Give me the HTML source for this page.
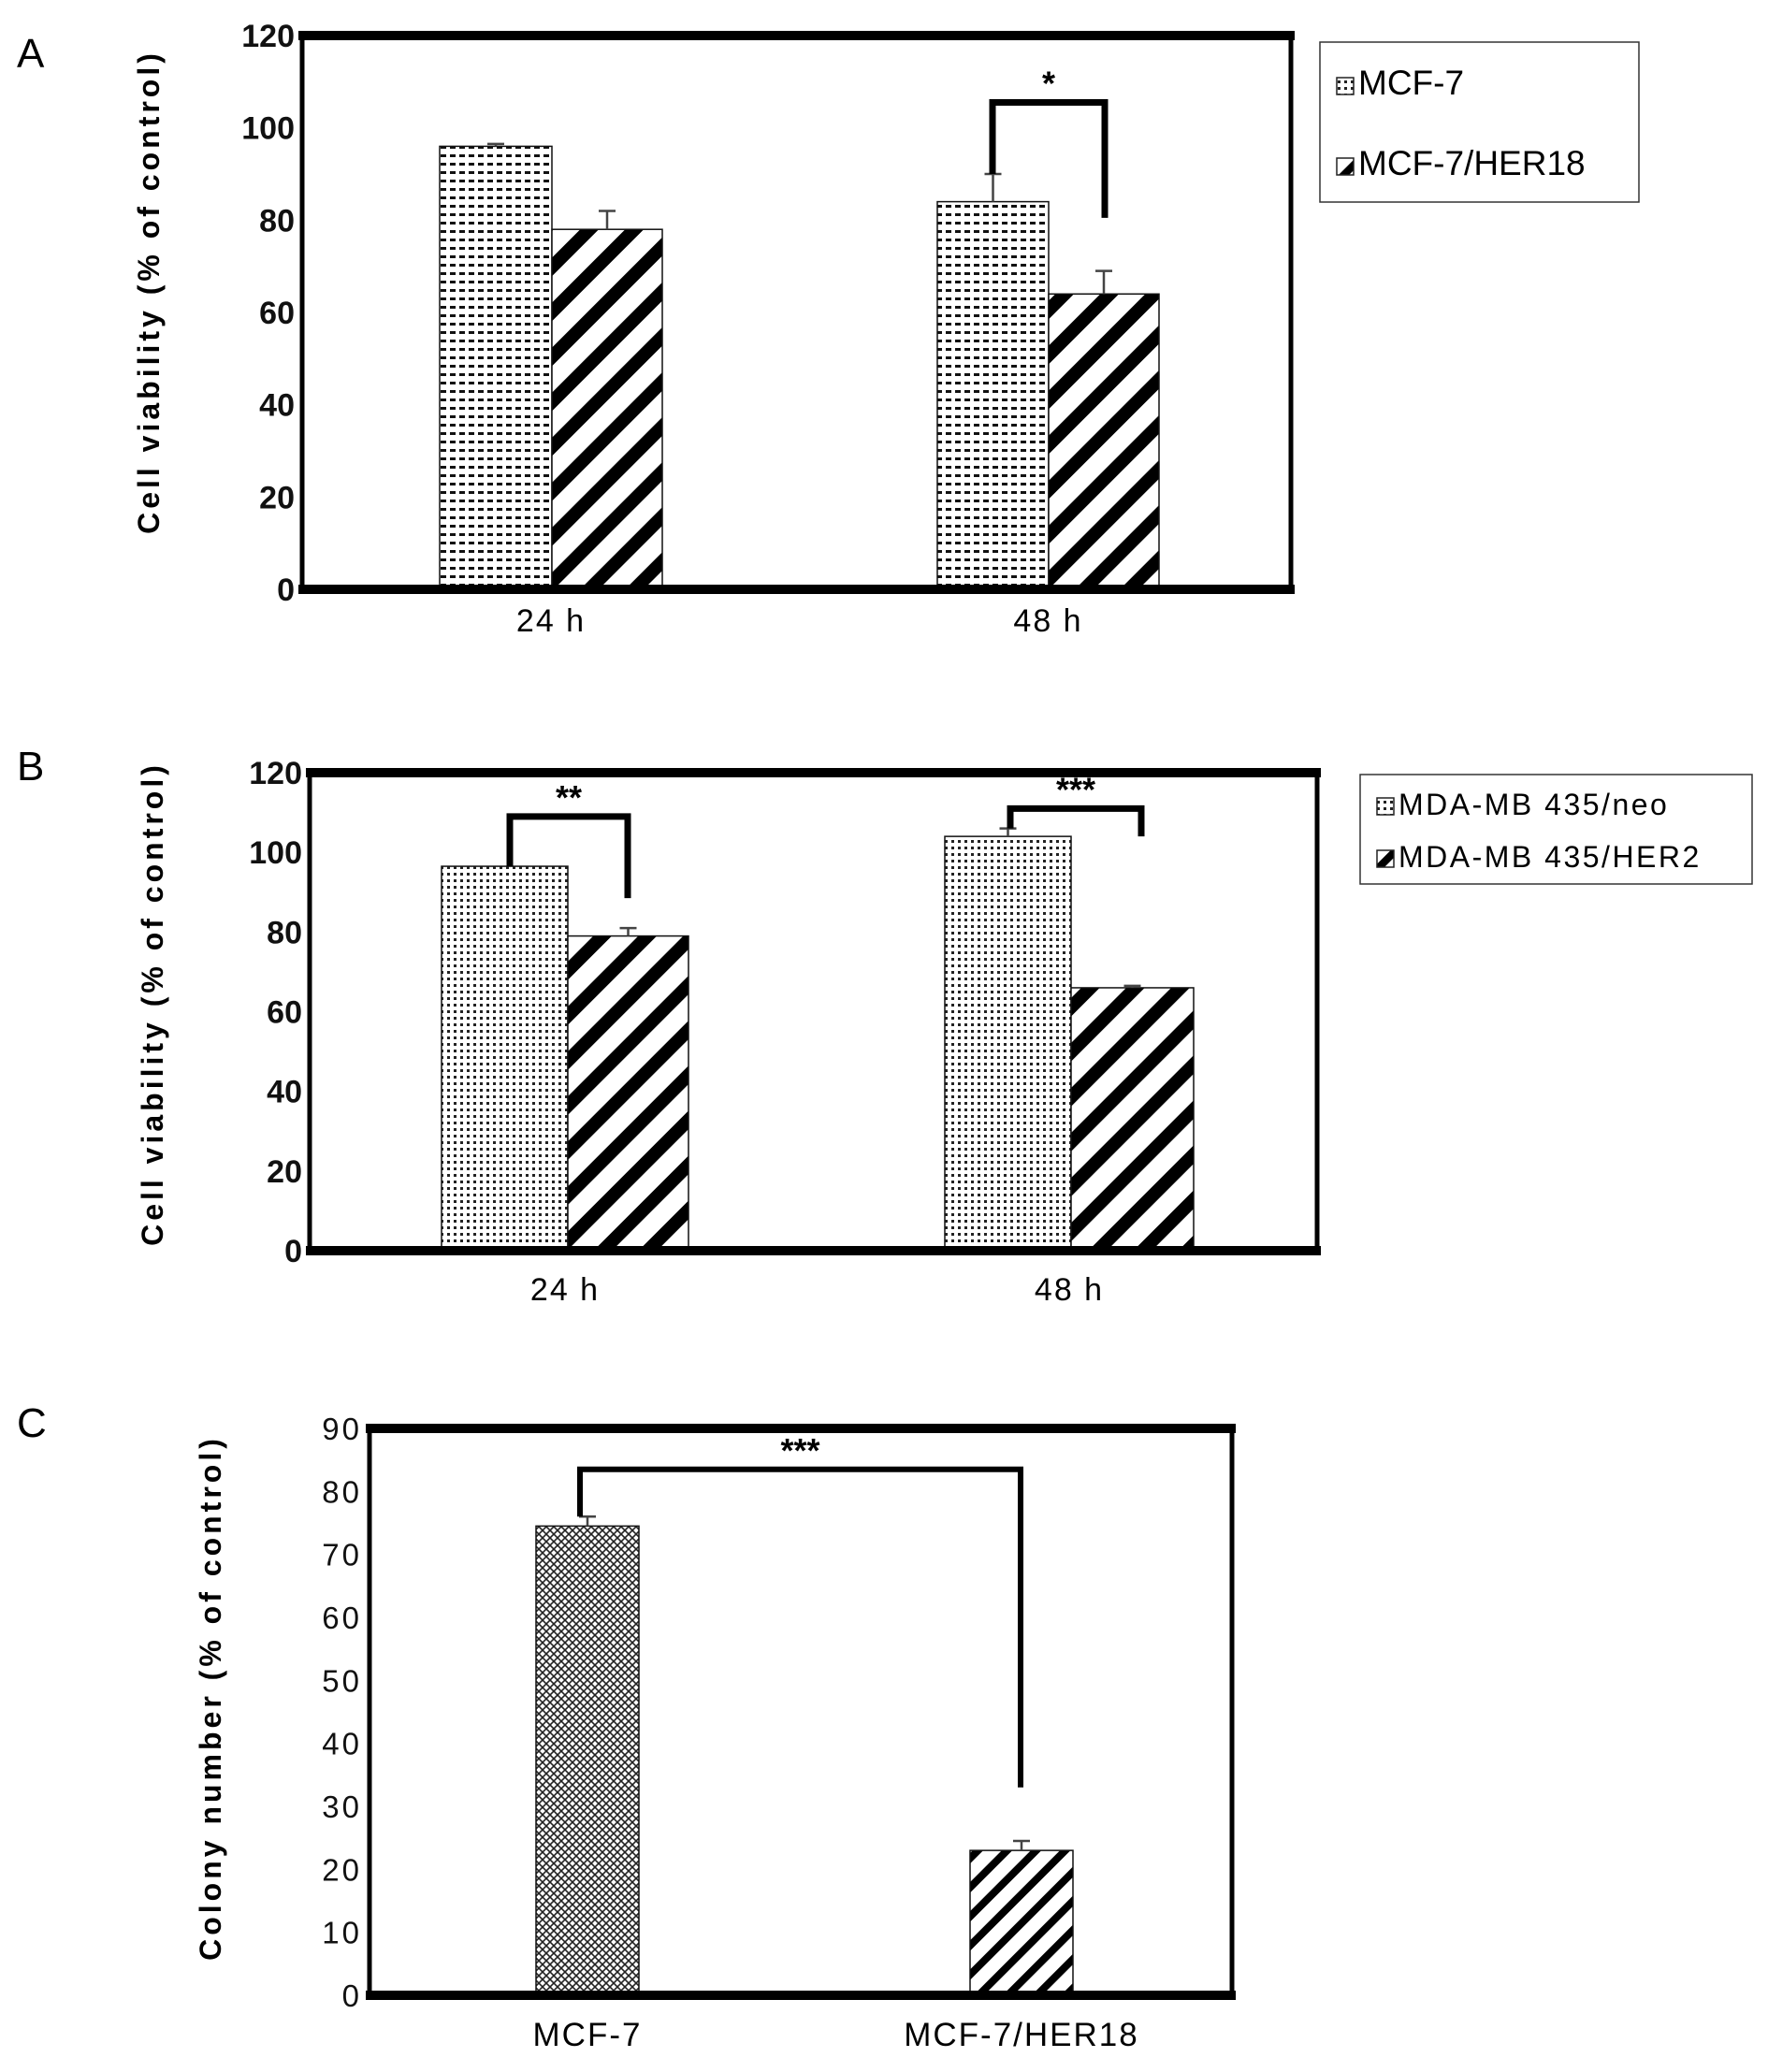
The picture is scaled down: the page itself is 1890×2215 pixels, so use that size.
<!DOCTYPE html>
<html><head><meta charset="utf-8"><style>
html,body{margin:0;padding:0;background:#fff}
svg{display:block;font-family:"Liberation Sans",sans-serif}
</style></head><body>
<svg id="fig" width="1890" height="2215" viewBox="0 0 1890 2215" xmlns="http://www.w3.org/2000/svg">
<defs>
<pattern id="pDash" width="10" height="9" patternUnits="userSpaceOnUse"><rect width="10" height="9" fill="#fff"/><rect x="1" y="3" width="6" height="3" fill="#111"/></pattern>
<pattern id="pDot" width="7" height="7" patternUnits="userSpaceOnUse"><rect width="7" height="7" fill="#fff"/><rect x="2" y="2" width="3" height="3" fill="#222"/></pattern>
<pattern id="pCross" width="8" height="8" patternUnits="userSpaceOnUse"><rect width="8" height="8" fill="#fff"/><path d="M0 0L8 8M8 0L0 8" stroke="#222" stroke-width="1.6"/></pattern>
<pattern id="pStripe" width="34" height="34" patternUnits="userSpaceOnUse" patternTransform="rotate(45)"><rect width="34" height="34" fill="#fff"/><rect x="0" y="0" width="14" height="34" fill="#000"/></pattern>
<pattern id="pStripeC" width="22" height="22" patternUnits="userSpaceOnUse" patternTransform="rotate(45)"><rect width="22" height="22" fill="#fff"/><rect x="0" y="0" width="8" height="22" fill="#000"/></pattern>
</defs>
</svg>
<script>
// Panel A data
const aCategories = ["24 h", "48 h"];
const aSeries1 = [96, 84];      // MCF-7
const aErr1 = [96.5, 90];
const aSeries2 = [78, 64];      // MCF-7/HER18
const aErr2 = [82, 69];
const aTicks = [0, 20, 40, 60, 80, 100, 120];
// Panel B data
const bCategories = ["24 h", "48 h"];
const bSeries1 = [96.5, 104];   // MDA-MB 435/neo
const bErr1 = [96.5, 106];
const bSeries2 = [79, 66];      // MDA-MB 435/HER2
const bErr2 = [81, 66.5];
const bTicks = [0, 20, 40, 60, 80, 100, 120];
// Panel C data
const cCategories = ["MCF-7", "MCF-7/HER18"];
const cValues = [74.5, 23];
const cErr = [76, 24.5];
const cTicks = [0, 10, 20, 30, 40, 50, 60, 70, 80, 90];

const svg = document.getElementById('fig');
const NS = 'http://www.w3.org/2000/svg';
function mk(tag, attrs, parent) {
  const e = document.createElementNS(NS, tag);
  for (const k in attrs) e.setAttribute(k, attrs[k]);
  (parent || svg).appendChild(e);
  return e;
}
function txt(s, attrs, parent) { const t = mk('text', attrs, parent); t.textContent = s; return t; }

function panel(cfg) {
  const g = mk('g', {});
  
  
  const y = v => cfg.y0 - (v / cfg.max) * (cfg.y0 - cfg.yTop);
  cfg.ticks.forEach(t => {
    const l = txt(String(t), {x: cfg.left - 8, y: y(t) + 12, 'text-anchor': 'end', 'font-size': cfg.tickSize, 'font-weight': cfg.tickWeight, 'letter-spacing': cfg.tickLs || 0, fill: '#111'}, g);
    
    
  });
  cfg.bars.forEach(b => {
    const r = mk('rect', {x: b.x0, y: y(b.v), width: b.x1 - b.x0, height: y(0) - y(b.v), fill: b.fill, stroke: '#111', 'stroke-width': 1.5}, g);
    
    
    if (b.e > b.v) {
      const cx = (b.x0 + b.x1) / 2;
      const eb = mk('path', {d: `M${cx} ${y(b.v)}V${y(b.e)}M${cx - 9} ${y(b.e)}H${cx + 9}`, stroke: '#444', 'stroke-width': 2.5, fill: 'none'}, g);
      
      
    }
  });
  const f = mk('rect', {x: cfg.left, y: cfg.yTop, width: cfg.right - cfg.left, height: cfg.y0 - cfg.yTop, fill: 'none', stroke: '#000', 'stroke-width': 5}, g);
  
  
  mk('line', {x1: cfg.left - 4, x2: cfg.right + 4, y1: cfg.yTop, y2: cfg.yTop, stroke: '#000', 'stroke-width': 10}, g);
  mk('line', {x1: cfg.left - 4, x2: cfg.right + 4, y1: cfg.y0, y2: cfg.y0, stroke: '#000', 'stroke-width': 10}, g);
  (cfg.brackets || []).forEach(k => {
    const p = mk('path', {d: `M${k.x0} ${y(k.l)}V${y(k.top)}H${k.x1}V${y(k.r)}`, stroke: '#000', 'stroke-width': k.w || 7, fill: 'none'}, g);
    
    
    const s = txt(k.label, {x: (k.x0 + k.x1) / 2, y: y(k.top) - 8, 'text-anchor': 'middle', 'font-size': 36, 'font-weight': 'bold'}, g);
    
    
  });
  cfg.xlabels.forEach(xl => {
    const t = txt(xl.s, {x: xl.x, y: cfg.xLabY, 'text-anchor': 'middle', 'font-size': cfg.xSize, 'letter-spacing': cfg.ls || 0}, g);
    
    
  });
  const yt = txt(cfg.ytitle, {x: 0, y: 0, transform: `translate(${cfg.ytX},${cfg.ytY}) rotate(-90)`, 'text-anchor': 'middle', 'font-size': 32, 'letter-spacing': 4, 'font-weight': 'bold'}, g);
  
  
  const pl = txt(cfg.letter, {x: 18, y: cfg.letterY, 'font-size': 44}, g);
  
  
  return g;
}

function legend(x, y, w, h, items, fs) {
  const g = mk('g', {});
  
  
  mk('rect', {x, y, width: w, height: h, fill: '#fff', stroke: '#333', 'stroke-width': 1.5}, g);
  items.forEach(it => {
    const e = mk('g', {}, g);
    
    
    mk('rect', {x: x + 18, y: it.y - 18, width: 18, height: 18, fill: it.fill, stroke: '#222', 'stroke-width': 1.5}, e);
    txt(it.s, {x: x + 41, y: it.y, 'font-size': fs, 'letter-spacing': it.ls || 0}, e);
  });
}

// Panel A
const aX = [[470, 590, 708], [1002, 1121, 1239]];
const aBars = [];
aCategories.forEach((c, i) => {
  aBars.push({x0: aX[i][0], x1: aX[i][1], v: aSeries1[i], e: aErr1[i], fill: 'url(#pDash)', name: 'bar-mcf7-' + c.replace(' ', '')});
  aBars.push({x0: aX[i][1], x1: aX[i][2], v: aSeries2[i], e: aErr2[i], fill: 'url(#pStripe)', name: 'bar-her18-' + c.replace(' ', '')});
});
panel({name: 'panel-a', left: 323, right: 1380, yTop: 38, y0: 630, max: 120, ticks: aTicks, tickSize: 34, tickWeight: 'bold',
  bars: aBars, xlabels: aCategories.map((s, i) => ({s, x: (aX[i][0] + aX[i][2]) / 2})), xLabY: 675, xSize: 34, ls: 2,
  brackets: [{x0: 1061, x1: 1181, top: 105.5, l: aErr1[1], r: 80.5, label: '*'}],
  ytitle: 'Cell viability (% of control)', ytX: 170, ytY: 312, letter: 'A', letterY: 72});
legend(1411, 45, 341, 171, [{s: 'MCF-7', y: 101, fill: 'url(#pDot)'}, {s: 'MCF-7/HER18', y: 187, fill: 'url(#pStripeC)'}], 37);

// Panel B
const bX = [[472, 607, 736], [1010, 1145, 1276]];
const bBars = [];
bCategories.forEach((c, i) => {
  bBars.push({x0: bX[i][0], x1: bX[i][1], v: bSeries1[i], e: bErr1[i], fill: 'url(#pDot)', name: 'bar-neo-' + c.replace(' ', '')});
  bBars.push({x0: bX[i][1], x1: bX[i][2], v: bSeries2[i], e: bErr2[i], fill: 'url(#pStripe)', name: 'bar-her2-' + c.replace(' ', '')});
});
panel({name: 'panel-b', left: 331, right: 1408, yTop: 826, y0: 1337, max: 120, ticks: bTicks, tickSize: 34, tickWeight: 'bold',
  bars: bBars, xlabels: bCategories.map((s, i) => ({s, x: (bX[i][0] + bX[i][2]) / 2})), xLabY: 1390, xSize: 34, ls: 2,
  brackets: [{x0: 545, x1: 671, top: 109, l: 96.5, r: 88.5, label: '**'},
             {x0: 1080, x1: 1220, top: 111, l: 106, r: 104, label: '***'}],
  ytitle: 'Cell viability (% of control)', ytX: 174, ytY: 1073, letter: 'B', letterY: 834});
legend(1454, 828, 419, 117, [{s: 'MDA-MB 435/neo', y: 871, fill: 'url(#pDot)', ls: 2.5}, {s: 'MDA-MB 435/HER2', y: 927, fill: 'url(#pStripeC)', ls: 2.5}], 32);

// Panel C
const cX = [[573, 683], [1037, 1147]];
const cBars = cCategories.map((c, i) => ({x0: cX[i][0], x1: cX[i][1], v: cValues[i], e: cErr[i], fill: i === 0 ? 'url(#pCross)' : 'url(#pStripeC)', name: 'bar-' + c.toLowerCase().replace('/', '-')}));
panel({name: 'panel-c', left: 395, right: 1317, yTop: 1527, y0: 2133, max: 90, ticks: cTicks, tickSize: 33, tickWeight: 'normal', tickLs: 3,
  bars: cBars, xlabels: cCategories.map((s, i) => ({s, x: (cX[i][0] + cX[i][1]) / 2})), xLabY: 2187, xSize: 35, ls: 2,
  brackets: [{x0: 620, x1: 1091, top: 83.5, l: 76, r: 33, label: '***', w: 6}],
  ytitle: 'Colony number (% of control)', ytX: 236, ytY: 1815, letter: 'C', letterY: 1536});
</script>
</body></html>
